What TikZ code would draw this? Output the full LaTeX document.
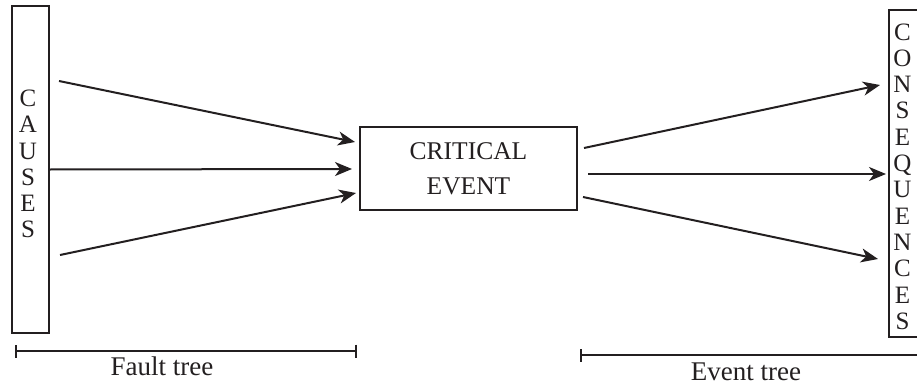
\documentclass[tikz,border=0pt]{standalone}
\usepackage{fontspec}
\setmainfont{Liberation Serif}
\usetikzlibrary{arrows.meta,calc}
\definecolor{ink}{HTML}{231F20}
\begin{document}
\begin{tikzpicture}[x=1pt,y=-1pt,
  line width=2pt, draw=ink, text=ink,
  box/.style={draw, rectangle, inner sep=0pt},
  letters/.style={align=center, inner sep=0pt, font=\fontsize{25}{26.3}\selectfont},
  flow/.style={-{Stealth[length=17pt,width=14pt,inset=5pt]}},
  caption/.style={anchor=base, inner sep=0pt, font=\fontsize{27}{30}\selectfont}]
\useasboundingbox (0,0) rectangle (917,385);

% left column: causes
\node[box, minimum width=37pt, minimum height=327pt] (causes) at (30.5,169.5) {};
\node[letters] (causestext) at (28,164) {C\\A\\U\\S\\E\\S};

% central event
\node[box, minimum width=217pt, minimum height=83pt, align=center,
      font=\fontsize{25.5}{35}\selectfont] (crit) at (468.5,168.5) {CRITICAL\\EVENT};

% right column: consequences (open on the right)
\node[box, minimum width=50pt, minimum height=327pt] (cons) at (914,173.5) {};
\node[letters] (constext) at (902.5,176.5) {C\\O\\N\\S\\E\\Q\\U\\E\\N\\C\\E\\S};

% causes -> critical event
\draw[flow] ($(causes.east)+(9,-88.5)$) -- ($(crit.west)+(-4,-26.5)$);
\draw[flow] (causes.east) -- ($(crit.west)+(-7,0.5)$);
\draw[flow] ($(causes.east)+(10,85.5)$) -- ($(crit.west)+(-3,24.5)$);

% critical event -> consequences
\draw[flow] ($(crit.east)+(6,-20.5)$) -- ($(cons.west)+(-8,-88.5)$);
\draw[flow] ($(crit.east)+(10,5.5)$) -- ($(cons.west)+(-2,0.5)$);
\draw[flow] ($(crit.east)+(5,28.5)$) -- ($(cons.west)+(-10,85.5)$);

% tree spans
\coordinate (ft1) at (15,351);
\coordinate (ft2) at (357,351);
\draw[{Bar[width=13pt]}-{Bar[width=13pt]}] (ft1) -- (ft2);
\node[caption] (ftlabel) at (162,375) {Fault tree};

\coordinate (et1) at (580,355);
\coordinate (et2) at (930,355);
\draw[{Bar[width=13pt]}-] (et1) -- (et2);
\node[caption] (etlabel) at (746,380) {Event tree};
\end{tikzpicture}
\end{document}
